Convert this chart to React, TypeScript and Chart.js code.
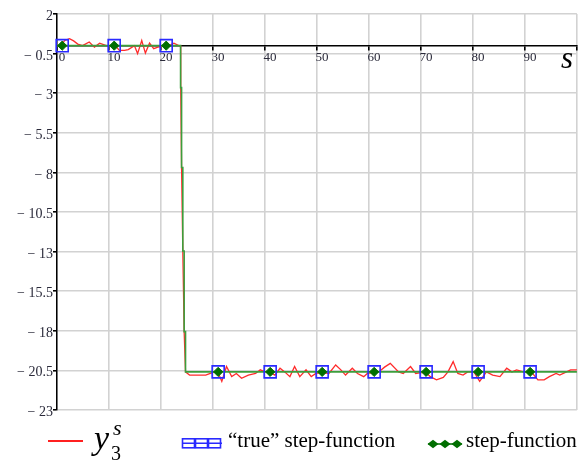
import React, { useEffect, useRef } from 'react';
import { Chart, registerables } from 'chart.js';

Chart.register(...registerables);

// ---- data ----
const ySampleS = [
  0, 0.8, 1.5, 2.4, 3.2, 4.0, 4.9, 6.2, 7.2, 8.2,
  9.5, 10.5, 11.2, 12.0, 13.0, 13.7, 14.9, 15.5, 16.3, 17.0,
  17.8, 18.6, 19.4, 20.2, 21.0, 21.8, 22.5, 23.4, 23.77, 23.8,
  23.96, 24.2, 24.46, 24.72, 25.5, 27.0, 28.6, 29.5, 30.3, 31.0,
  31.7, 32.6, 33.6, 34.5, 35.5, 36.8, 38.2, 39.1, 40.0, 41.0,
  41.9, 42.9, 43.8, 44.8, 45.7, 46.7, 47.9, 48.9, 49.8, 51.0,
  52.3, 53.6, 54.6, 55.5, 56.8, 57.8, 59.0, 59.7, 61.0, 61.9,
  63.0, 64.1, 65.7, 66.6, 68.0, 69.0, 70.0, 71.0, 71.8, 73.0,
  74.3, 75.2, 76.2, 77.1, 78.1, 79.0, 80.2, 81.3, 82.6, 83.8,
  85.2, 86.5, 87.5, 88.4, 89.7, 91.0, 91.5, 92.5, 93.7, 94.7,
  96.0, 96.7, 98.0, 98.8, 100,
];
const ySampleValues = [
  0, 0.05, 0.33, 0.44, 0.3, 0.1, 0.0, 0.23, -0.09, 0.16,
  0.0, 0.0, 0.0, -0.3, -0.3, -0.25, 0.0, -0.5, 0.33, -0.47,
  0.16, -0.19, -0.09, -0.05, 0.0, 0.05, 0.16, 0.0, 0.0, -2.65,
  -7.69, -12.97, -18.06, -20.6, -20.8, -20.8, -20.8, -20.7, -20.6, -20.65,
  -21.2, -20.26, -20.9, -20.7, -21.0, -20.8, -20.7, -20.47, -20.6, -20.65,
  -20.8, -20.37, -20.6, -20.9, -20.26, -20.9, -20.47, -20.9, -20.7, -20.65,
  -20.7, -20.16, -20.47, -20.8, -20.37, -20.7, -20.9, -20.7, -20.65, -20.6,
  -20.3, -20.06, -20.6, -20.7, -20.26, -20.7, -20.65, -20.65, -20.9, -21.1,
  -20.95, -20.6, -19.95, -20.7, -20.8, -20.6, -20.6, -21.2, -20.6, -20.8,
  -20.9, -20.37, -20.6, -20.47, -20.6, -20.65, -20.7, -21.1, -21.1, -20.9,
  -20.7, -20.8, -20.6, -20.47, -20.47,
];

const stepS = [0, 23.77, 23.96, 24.2, 24.46, 24.72, 100];
const stepValues = [0, -2.65, -7.69, -12.97, -18.06, -20.6, -20.6];

const markerS = [1, 11, 21, 31, 41, 51, 61, 71, 81, 91];
const trueStepValues = [0, 0, 0, -20.6, -20.6, -20.6, -20.6, -20.6, -20.6, -20.6];
const estStepValues = [0, 0, 0, -20.6, -20.6, -20.6, -20.6, -20.6, -20.6, -20.6];

const xMin = 0;
const xMax = 100;
const xStep = 10;
const yMin = -23;
const yMax = 2;
const yStep = 2.5;

const SERIF = "'Liberation Serif', 'Times New Roman', serif";

const pts = (xs: number[], ys: number[]) => xs.map((x, i) => ({ x, y: ys[i] }));

function textTop(baseline: number, size: number) {
  return baseline - 0.8375 * size;
}

export default function App() {
  const ref = useRef<HTMLCanvasElement | null>(null);

  useEffect(() => {
    if (!ref.current) return;
    const chart = new Chart(ref.current, {
      type: 'line',
      data: {
        datasets: [
          {
            label: 'y3s',
            data: pts(ySampleS, ySampleValues),
            borderColor: '#ff2b2b',
            borderWidth: 1.3,
            pointRadius: 0,
            tension: 0,
            order: 4,
          },
          {
            label: 'step',
            data: pts(stepS, stepValues),
            borderColor: '#3c9e3c',
            borderWidth: 1.6,
            pointRadius: 0,
            stepped: 'before',
            order: 3,
          },
          {
            label: 'true step',
            data: pts(markerS, trueStepValues),
            showLine: false,
            pointStyle: 'rect',
            pointRadius: 8.5,
            borderColor: '#2a2aff',
            borderWidth: 1.6,
            backgroundColor: 'rgba(255,255,255,0)',
            clip: false,
            order: 2,
          },
          {
            label: 'est step',
            data: pts(markerS, estStepValues),
            showLine: false,
            pointStyle: 'rectRot',
            pointRadius: 4.6,
            borderColor: '#006e00',
            backgroundColor: '#006e00',
            borderWidth: 1,
            clip: false,
            order: 1,
          },
        ] as any,
      },
      options: {
        responsive: false,
        animation: false,
        layout: { padding: { left: 0, top: 14, right: 6, bottom: 8 } },
        plugins: {
          legend: { display: false },
          tooltip: { enabled: false },
        },
        scales: {
          x: {
            type: 'linear',
            min: xMin,
            max: xMax,
            position: { y: 0 } as any,
            ticks: {
              stepSize: xStep,
              autoSkip: false,
              maxRotation: 0,
              labelOffset: 5,
              padding: 0,
              color: '#2a2a3a',
              font: { family: SERIF, size: 13 },
              callback: (v: any) => (Number(v) === xMax ? '' : String(v)),
            },
            grid: { color: '#d2d2d2', lineWidth: 1.6, tickColor: '#000', tickLength: 4 },
            border: { color: '#000', width: 1.5 },
          },
          y: {
            type: 'linear',
            min: yMin,
            max: yMax,
            position: 'left',
            afterFit: (s: any) => {
              s.width = 57;
            },
            ticks: {
              stepSize: yStep,
              autoSkip: false,
              labelOffset: 2.5,
              padding: 0,
              color: '#2a2a3a',
              font: { family: SERIF, size: 14 },
              callback: (v: any) => {
                const n = Number(v);
                return n < 0 ? '\u2212 ' + String(Math.abs(n)) : String(n);
              },
            },
            grid: { color: '#d2d2d2', lineWidth: 1.6, tickColor: '#000', tickLength: 4 },
            border: { color: '#000', width: 1.5 },
          },
        },
      } as any,
    });
    return () => chart.destroy();
  }, []);

  const abs = (style: React.CSSProperties): React.CSSProperties => ({
    position: 'absolute',
    whiteSpace: 'nowrap',
    fontFamily: SERIF,
    color: '#000',
    ...style,
  });

  return (
    <div style={{ position: 'absolute', left: 0, top: 0, width: 587, height: 461, background: '#fff', overflow: 'hidden' }}>
      <canvas ref={ref} width={587} height={420} style={{ position: 'absolute', left: 0, top: 0 }} />
      {/* x axis variable */}
      <div style={abs({ left: 561, top: textTop(68, 31), fontSize: 31, lineHeight: '31px', fontStyle: 'italic' })}>s</div>

      {/* legend: y3^s */}
      <div style={{ position: 'absolute', left: 48, top: 440, width: 35, height: 2.2, background: '#ff2020' }} />
      <div style={abs({ left: 94, top: textTop(449, 34), fontSize: 34, lineHeight: '34px', fontStyle: 'italic' })}>y</div>
      <div style={abs({ left: 113, top: textTop(435.5, 22), fontSize: 22, lineHeight: '22px', fontStyle: 'italic' })}>s</div>
      <div style={abs({ left: 111, top: textTop(460, 20), fontSize: 20, lineHeight: '20px' })}>3</div>

      {/* legend: true step-function */}
      <svg style={{ position: 'absolute', left: 180, top: 436 }} width={44} height={14}>
        <line x1={2} y1={7.3} x2={42} y2={7.3} stroke="#2a2aff" strokeWidth={1.4} />
        <rect x={2.5} y={2.8} width={12} height={9} fill="none" stroke="#2a2aff" strokeWidth={1.6} />
        <rect x={15.5} y={2.8} width={12} height={9} fill="none" stroke="#2a2aff" strokeWidth={1.6} />
        <rect x={28.5} y={2.8} width={12} height={9} fill="none" stroke="#2a2aff" strokeWidth={1.6} />
      </svg>
      <div style={abs({ left: 228, top: textTop(448, 21), fontSize: 21, lineHeight: '21px' })}>{'\u201Ctrue\u201D step-function'}</div>

      {/* legend: step-function */}
      <svg style={{ position: 'absolute', left: 426, top: 437 }} width={38} height={14}>
        <line x1={2} y1={7} x2={36} y2={7} stroke="#006e00" strokeWidth={1.4} />
        <polygon points="1.5,7 7,2.8 12.5,7 7,11.2" fill="#006e00" />
        <polygon points="13.5,7 19,2.8 24.5,7 19,11.2" fill="#006e00" />
        <polygon points="25.5,7 31,2.8 36.5,7 31,11.2" fill="#006e00" />
      </svg>
      <div style={abs({ left: 466, top: textTop(448, 21), fontSize: 21, lineHeight: '21px' })}>step-function</div>
    </div>
  );
}
